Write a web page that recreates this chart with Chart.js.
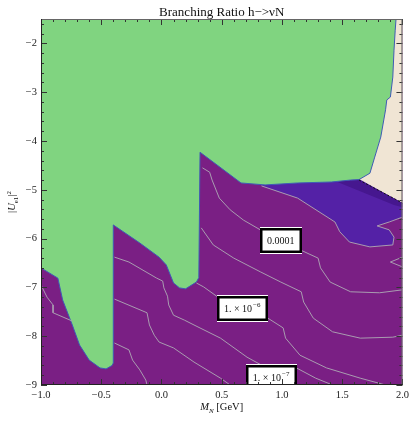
<!DOCTYPE html>
<html>
<head>
<meta charset="utf-8">
<script src="https://cdn.jsdelivr.net/npm/chart.js@4.4.1/dist/chart.umd.min.js"></script>
<style>
  html, body { margin: 0; padding: 0; background: #fff; }
</style>
</head>
<body>
<canvas id="chart" width="413" height="421"></canvas>
<script>
// Regiones y contornos en coordenadas [M_N (GeV), log10 |U_e1|^2]
const greenEdge = [
  [-1.0, -1.4], [-1.0, -6.60], [-0.86, -6.81], [-0.82, -7.26], [-0.74, -7.77], [-0.68, -8.18],
  [-0.60, -8.49], [-0.51, -8.65], [-0.46, -8.67], [-0.41, -8.60], [-0.40, -8.55], [-0.40, -5.72],
  [-0.18, -6.09], [-0.02, -6.38], [0.04, -6.54], [0.10, -6.91], [0.15, -7.01], [0.20, -7.03],
  [0.29, -6.89], [0.31, -6.80], [0.32, -4.23], [0.66, -4.86], [0.86, -4.90], [1.13, -4.86],
  [1.41, -4.84], [1.57, -4.80], [1.64, -4.79], [1.73, -4.66], [1.77, -4.33], [1.82, -3.92],
  [1.86, -3.36], [1.87, -3.16], [1.90, -3.10], [1.92, -2.69], [1.93, -2.14], [1.94, -1.73],
  [1.95, -1.4]
];
const beigeEdge = [[1.6, -4.84], [1.64, -4.80], [2.0, -5.27], [2.05, -5.27], [2.05, -1.4], [1.6, -1.4]];
const blueTop = [[0.83, -4.86], [1.13, -4.82], [1.41, -4.80], [1.64, -4.78], [2.0, -5.27]];
const blueEdge = [
  [0.83, -4.92], [1.13, -5.17], [1.44, -5.66], [1.48, -5.86], [1.56, -6.07], [1.73, -6.17],
  [1.92, -6.13], [1.93, -5.97], [1.89, -5.82], [1.79, -5.74], [1.89, -5.66], [2.0, -5.56]
];
const darkStrip = [[1.45, -4.83], [1.64, -4.80], [2.0, -5.27], [2.0, -5.36], [1.93, -5.31]];
const dashEdge = [[1.64, -4.80], [2.0, -5.27]];

const contourA = [
  [0.34, -4.55], [0.40, -4.64], [0.42, -4.80], [0.48, -5.17], [0.57, -5.41], [0.68, -5.62],
  [0.82, -5.82], [1.00, -6.05], [1.15, -6.23], [1.30, -6.40], [1.32, -6.60], [1.40, -6.89],
  [1.57, -7.09], [1.81, -7.11], [2.00, -7.05]
];
const contourB = [
  [0.33, -5.78], [0.43, -6.13], [0.60, -6.40], [0.82, -6.68], [0.99, -6.89], [1.16, -7.09],
  [1.18, -7.30], [1.26, -7.63], [1.42, -7.91], [1.65, -8.04], [1.92, -8.02], [2.00, -7.98]
];
const contourC = [
  [0.29, -6.91], [0.35, -6.99], [0.48, -7.22], [0.66, -7.42], [0.87, -7.61], [1.01, -7.83],
  [1.03, -8.04], [1.15, -8.39], [1.37, -8.65], [1.65, -8.86], [1.86, -9.0]
];
const contourD = [
  [-0.39, -6.38], [-0.27, -6.48], [-0.04, -6.81], [0.01, -6.87], [0.02, -7.01], [0.05, -7.18],
  [0.06, -7.36], [0.10, -7.57], [0.19, -7.67], [0.27, -7.77], [0.49, -8.04], [0.71, -8.43],
  [0.91, -8.70], [1.12, -8.65], [1.28, -8.86], [1.42, -9.0]
];
const contourE = [
  [-0.39, -7.24], [-0.12, -7.52], [-0.10, -7.77], [-0.06, -7.98], [-0.02, -8.12], [0.10, -8.24],
  [0.27, -8.53], [0.49, -8.86], [0.57, -9.0]
];
const contourF = [[-0.39, -8.14], [-0.27, -8.28], [-0.24, -8.49], [-0.18, -8.69], [-0.13, -8.90], [-0.12, -9.0]];
const contourG = [[-1.0, -6.95], [-0.95, -7.20], [-0.90, -7.36], [-0.90, -7.52], [-0.74, -7.69]];
const contourNotch = [[2.0, -6.38], [1.90, -6.48], [2.0, -6.58]];

const labelX = [0.99, 0.67, 0.91];
const labelY = [-6.03, -7.43, -8.84];
const labelBase = ['0.0001', '1. × 10', '1. × 10'];
const labelExp = ['', '−6', '−7'];

const SERIF = '"Liberation Serif", "DejaVu Serif", serif';
const PURPLE = '#7a1f84';
const CONTOUR = '#a99cb0';

const pts = arr => arr.map(([x, y]) => ({ x, y }));

function region(edge, color, order, border) {
  return {
    data: pts(edge), showLine: true, fill: 'shape', backgroundColor: color,
    borderColor: border || 'rgba(0,0,0,0)', borderWidth: border ? 1 : 0,
    pointRadius: 0, tension: 0, order, clip: 0,
  };
}

function line(edge, color, order, dash) {
  return {
    data: pts(edge), showLine: true, fill: false, borderColor: color, borderWidth: 1,
    borderDash: dash || [], pointRadius: 0, tension: 0, order,
  };
}

const blueRegion = blueTop.concat([[2.0, -5.56]], blueEdge.slice().reverse());

const datasets = [
  region(beigeEdge, '#f0e5d4', 10),
  region(blueRegion, '#5421a6', 9),
  region(darkStrip, '#46178f', 8),
  region(greenEdge, '#80d480', 7, '#3f5cb4'),
  line(dashEdge, '#111', 6, [2, 2]),
  line(blueEdge, CONTOUR, 5),
  ...[contourA, contourB, contourC, contourD, contourE, contourF, contourG, contourNotch]
    .map(c => line(c, CONTOUR, 4)),
];

// ─── Plugins de dibujo ──────────────────────────────────────────────────────

const backdrop = {
  id: 'backdrop',
  beforeDatasetsDraw(chart) {
    const { ctx, chartArea: a } = chart;
    ctx.save();
    ctx.fillStyle = PURPLE;
    ctx.fillRect(a.left, a.top, a.width, a.height);
    ctx.restore();
  },
};

const contourLabels = {
  id: 'contourLabels',
  afterDatasetsDraw(chart) {
    const { ctx, chartArea: a, scales: { x, y } } = chart;
    ctx.save();
    ctx.beginPath();
    ctx.rect(a.left, a.top, a.width, a.height);
    ctx.clip();
    ctx.textBaseline = 'middle';
    labelBase.forEach((txt, i) => {
      const cx = x.getPixelForValue(labelX[i]);
      const cy = y.getPixelForValue(labelY[i]);
      ctx.font = '10px ' + SERIF;
      const w1 = ctx.measureText(txt).width;
      ctx.font = '7px ' + SERIF;
      const w2 = labelExp[i] ? ctx.measureText(labelExp[i]).width + 1 : 0;
      const w = Math.round(w1 + w2 + 14), h = 27;
      const x0 = Math.round(cx - w / 2), y0 = Math.round(cy - h / 2);
      ctx.fillStyle = '#fff';
      ctx.fillRect(x0, y0, w, h);
      ctx.strokeStyle = '#000';
      ctx.lineWidth = 2.5;
      ctx.strokeRect(x0 + 1.25, y0 + 2.25, w - 2.5, h - 4.5);
      ctx.fillStyle = '#111';
      ctx.font = '10px ' + SERIF;
      const tx = cx - (w1 + w2) / 2;
      ctx.fillText(txt, tx, cy + 1);
      if (labelExp[i]) {
        ctx.font = '7px ' + SERIF;
        ctx.fillText(labelExp[i], tx + w1 + 1, cy - 3);
      }
    });
    ctx.restore();
  },
};

const frame = {
  id: 'frame',
  afterDatasetsDraw(chart) {
    const { ctx, chartArea: a, scales: { x, y } } = chart;
    ctx.save();
    ctx.lineWidth = 1;
    ctx.strokeStyle = '#333';
    ctx.beginPath();
    for (let i = 0; i <= 30; i++) {
      const px = Math.round(x.getPixelForValue(-1 + i * 0.1)) + 0.5;
      const len = i % 5 === 0 ? 6 : 3;
      ctx.moveTo(px, a.bottom); ctx.lineTo(px, a.bottom - len);
      ctx.moveTo(px, a.top); ctx.lineTo(px, a.top + len);
    }
    for (let i = 0; i <= 37; i++) {
      const py = Math.round(y.getPixelForValue(-9 + i * 0.2)) + 0.5;
      const len = i % 5 === 0 ? 6 : 3;
      ctx.moveTo(a.left, py); ctx.lineTo(a.left + len, py);
      ctx.moveTo(a.right, py); ctx.lineTo(a.right - len, py);
    }
    ctx.stroke();
    ctx.strokeStyle = '#666';
    ctx.strokeRect(a.left + 0.5, a.top + 0.5, a.width - 1, a.height - 1);
    ctx.strokeStyle = '#222';
    ctx.beginPath();
    ctx.moveTo(a.left + 0.5, a.top); ctx.lineTo(a.left + 0.5, a.bottom);
    ctx.moveTo(a.left, a.bottom - 0.5); ctx.lineTo(a.right, a.bottom - 0.5);
    ctx.stroke();
    ctx.restore();
  },
};

// pieces: [texto, cursiva, desplazamiento] con 0 normal, 1 subíndice, -1 superíndice
function drawPieces(ctx, pieces, cx, cy) {
  const fontOf = p => (p[1] ? 'italic ' : '') + (p[2] ? '7px ' : '10.5px ') + SERIF;
  let total = 0;
  for (const p of pieces) { ctx.font = fontOf(p); total += ctx.measureText(p[0]).width; }
  let xx = cx - total / 2;
  for (const p of pieces) {
    ctx.font = fontOf(p);
    ctx.fillText(p[0], xx, cy + (p[2] === 1 ? 3 : p[2] === -1 ? -4 : 0));
    xx += ctx.measureText(p[0]).width;
  }
}

const texts = {
  id: 'texts',
  afterDraw(chart) {
    const { ctx, chartArea: a } = chart;
    const mid = (a.left + a.right) / 2;
    ctx.save();
    ctx.fillStyle = '#111';
    ctx.textBaseline = 'alphabetic';
    ctx.font = '13px ' + SERIF;
    ctx.textAlign = 'center';
    ctx.fillText('Branching Ratio h−>νN', mid, 16);
    ctx.textAlign = 'left';
    drawPieces(ctx, [['M', true, 0], ['N', true, 1], [' [GeV]', false, 0]], mid, 410);
    ctx.translate(15, (a.top + a.bottom) / 2);
    ctx.rotate(-Math.PI / 2);
    drawPieces(ctx, [['|', false, 0], ['U', true, 0], ['e1', false, 1], ['|', false, 0], ['2', false, -1]], 0, 0);
    ctx.restore();
  },
};

const minus = s => s.replace('-', '−');

new Chart(document.getElementById('chart'), {
  type: 'scatter',
  data: { datasets },
  options: {
    responsive: false,
    animation: false,
    events: [],
    layout: { padding: { left: 0, right: 8, top: 19, bottom: 0 } },
    plugins: { legend: { display: false }, tooltip: { enabled: false } },
    scales: {
      x: {
        type: 'linear', min: -1, max: 2,
        grid: { display: false, drawTicks: false },
        border: { display: false },
        ticks: {
          stepSize: 0.5, padding: 4, color: '#222', font: { family: SERIF, size: 10.5 },
          callback: v => minus(Number(v).toFixed(1)),
        },
        afterFit(s) { s.height = 36; },
      },
      y: {
        type: 'linear', min: -9, max: -1.5,
        grid: { display: false, drawTicks: false },
        border: { display: false },
        ticks: {
          stepSize: 1, includeBounds: false, padding: 4, color: '#222', font: { family: SERIF, size: 10.5 },
          callback: v => minus(String(v)),
        },
        afterFit(s) { s.width = 41; },
      },
    },
  },
  plugins: [backdrop, contourLabels, frame, texts],
});
</script>
</body>
</html>
